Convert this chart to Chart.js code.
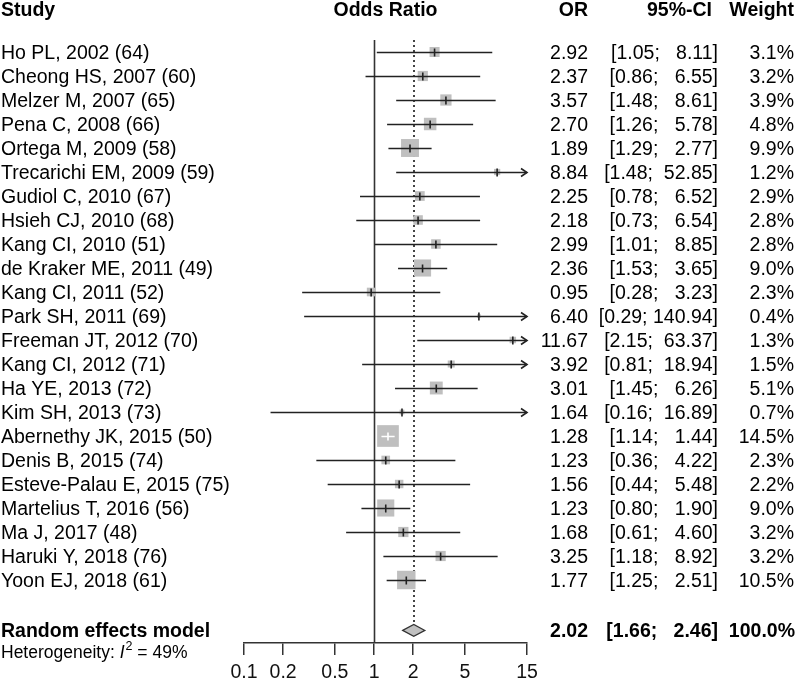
<!DOCTYPE html>
<html>
<head>
<meta charset="utf-8">
<script src="https://cdn.jsdelivr.net/npm/chart.js@4"></script>
<style>
  html, body { margin: 0; padding: 0; background: #fff; }
  canvas { display: block; }
</style>
</head>
<body>
<canvas id="chart" width="796" height="680"></canvas>
<script>
const studies = [
  'Ho PL, 2002 (64)', 'Cheong HS, 2007 (60)', 'Melzer M, 2007 (65)', 'Pena C, 2008 (66)',
  'Ortega M, 2009 (58)', 'Trecarichi EM, 2009 (59)', 'Gudiol C, 2010 (67)', 'Hsieh CJ, 2010 (68)',
  'Kang CI, 2010 (51)', 'de Kraker ME, 2011 (49)', 'Kang CI, 2011 (52)', 'Park SH, 2011 (69)',
  'Freeman JT, 2012 (70)', 'Kang CI, 2012 (71)', 'Ha YE, 2013 (72)', 'Kim SH, 2013 (73)',
  'Abernethy JK, 2015 (50)', 'Denis B, 2015 (74)', 'Esteve-Palau E, 2015 (75)', 'Martelius T, 2016 (56)',
  'Ma J, 2017 (48)', 'Haruki Y, 2018 (76)', 'Yoon EJ, 2018 (61)'
]
const oddsRatio = [2.92, 2.37, 3.57, 2.70, 1.89, 8.84, 2.25, 2.18, 2.99, 2.36, 0.95, 6.40, 11.67, 3.92, 3.01, 1.64, 1.28, 1.23, 1.56, 1.23, 1.68, 3.25, 1.77]
const lower = [1.05, 0.86, 1.48, 1.26, 1.29, 1.48, 0.78, 0.73, 1.01, 1.53, 0.28, 0.29, 2.15, 0.81, 1.45, 0.16, 1.14, 0.36, 0.44, 0.80, 0.61, 1.18, 1.25]
const upper = [8.11, 6.55, 8.61, 5.78, 2.77, 52.85, 6.52, 6.54, 8.85, 3.65, 3.23, 140.94, 63.37, 18.94, 6.26, 16.89, 1.44, 4.22, 5.48, 1.90, 4.60, 8.92, 2.51]
const weight = [3.1, 3.2, 3.9, 4.8, 9.9, 1.2, 2.9, 2.8, 2.8, 9.0, 2.3, 0.4, 1.3, 1.5, 5.1, 0.7, 14.5, 2.3, 2.2, 9.0, 3.2, 3.2, 10.5]

const pooled = { label: 'Random effects model', or: 2.02, lower: 1.66, upper: 2.46, weight: 100.0 }
const heterogeneity = 49

const xTicks = [0.1, 0.2, 0.5, 1, 2, 5, 15]
const xMin = 0.1
const xMax = 15

const FONT = '"Liberation Sans", Arial, Helvetica, sans-serif'
const summaryRow = 24.1

const boxSide = w => 5.7 * Math.sqrt(w)
const fmt = v => v.toFixed(2)
const ciText = (lo, hi) => `[${fmt(lo)}; ${fmt(hi).padStart(6, ' ')}]`

const forest = {
  id: 'forest',
  beforeDatasetsDraw(chart) {
    const { ctx, scales: { x, y } } = chart
    const top = chart.chartArea.top
    const bottom = chart.chartArea.bottom
    ctx.save()
    // line of no effect
    ctx.strokeStyle = '#333'
    ctx.lineWidth = 1.6
    ctx.beginPath()
    ctx.moveTo(Math.round(x.getPixelForValue(1)) + 0.5, top)
    ctx.lineTo(Math.round(x.getPixelForValue(1)) + 0.5, bottom)
    ctx.stroke()
    // pooled estimate
    ctx.strokeStyle = '#444'
    ctx.lineWidth = 2
    ctx.setLineDash([2, 3])
    ctx.beginPath()
    const px = Math.round(x.getPixelForValue(pooled.or))
    ctx.moveTo(px, top)
    ctx.lineTo(px, y.getPixelForValue(summaryRow) - 6)
    ctx.stroke()
    ctx.restore()
  },
  afterDatasetsDraw(chart) {
    const { ctx, scales: { x, y } } = chart
    const right = chart.chartArea.right
    ctx.save()
    ctx.lineWidth = 1.6
    studies.forEach((name, i) => {
      const py = Math.round(y.getPixelForValue(i)) + 0.5
      const x0 = x.getPixelForValue(Math.max(lower[i], xMin))
      const x1 = x.getPixelForValue(Math.min(upper[i], xMax))
      const xm = x.getPixelForValue(oddsRatio[i])
      const half = boxSide(weight[i]) / 2
      const inside = x0 >= xm - half && x1 <= xm + half
      ctx.strokeStyle = inside ? '#fff' : '#222'
      ctx.beginPath()
      ctx.moveTo(x0, py)
      ctx.lineTo(x1, py)
      ctx.moveTo(xm, py - 4)
      ctx.lineTo(xm, py + 4)
      ctx.stroke()
      if (upper[i] > xMax) {
        ctx.strokeStyle = '#222'
        ctx.beginPath()
        ctx.moveTo(right - 6, py - 4)
        ctx.lineTo(right, py)
        ctx.lineTo(right - 6, py + 4)
        ctx.stroke()
      }
    })

    // diamond
    const dy = y.getPixelForValue(summaryRow)
    ctx.beginPath()
    ctx.moveTo(x.getPixelForValue(pooled.lower), dy)
    ctx.lineTo(x.getPixelForValue(pooled.or), dy - 6)
    ctx.lineTo(x.getPixelForValue(pooled.upper), dy)
    ctx.lineTo(x.getPixelForValue(pooled.or), dy + 6)
    ctx.closePath()
    ctx.fillStyle = '#c0c0c0'
    ctx.fill()
    ctx.lineWidth = 1.2
    ctx.strokeStyle = '#333'
    ctx.stroke()

    // text columns
    ctx.fillStyle = '#000'
    ctx.textBaseline = 'alphabetic'
    const bold = `bold 19.5px ${FONT}`
    const normal = `19.5px ${FONT}`
    const text = (s, tx, ty, align, font) => {
      ctx.font = font
      ctx.textAlign = align
      ctx.fillText(s, tx, ty)
    }
    const mid = (chart.chartArea.left + chart.chartArea.right) / 2
    text('Study', 1, 16, 'left', bold)
    text('Odds Ratio', mid, 16, 'center', bold)
    text('OR', 588, 16, 'right', bold)
    text('95%-CI', 712, 16, 'right', bold)
    text('Weight', 794, 16, 'right', bold)

    studies.forEach((name, i) => {
      const ty = y.getPixelForValue(i) + 7
      text(name, 1, ty, 'left', normal)
      text(fmt(oddsRatio[i]), 588, ty, 'right', normal)
      text(ciText(lower[i], upper[i]), 718, ty, 'right', normal)
      text(weight[i].toFixed(1) + '%', 794, ty, 'right', normal)
    })

    const sy = dy + 7
    text(pooled.label, 1, sy, 'left', bold)
    text(fmt(pooled.or), 588, sy, 'right', bold)
    text(ciText(pooled.lower, pooled.upper), 718, sy, 'right', bold)
    text(pooled.weight.toFixed(1) + '%', 795, sy, 'right', bold)

    // heterogeneity line
    let hx = 1
    const hy = dy + 28
    const part = (s, font, off = 0) => {
      ctx.font = font
      ctx.textAlign = 'left'
      ctx.fillText(s, hx, hy + off)
      hx += ctx.measureText(s).width
    }
    part('Heterogeneity: ', `17.5px ${FONT}`)
    part('I', `italic 17.5px ${FONT}`)
    hx += 1
    part('2', `12.5px ${FONT}`, -8)
    part(` = ${heterogeneity}%`, `17.5px ${FONT}`)
    ctx.restore()
  }
}

new Chart(document.getElementById('chart'), {
  type: 'scatter',
  data: {
    datasets: [{
      data: studies.map((s, i) => ({ x: oddsRatio[i], y: i })),
      pointStyle: 'rect',
      pointRadius: ctx => boxSide(weight[ctx.dataIndex]) / Math.SQRT2,
      backgroundColor: '#bfbfbf',
      borderWidth: 0
    }]
  },
  options: {
    responsive: false,
    animation: false,
    events: [],
    layout: { padding: { left: 244, right: 269, top: 40, bottom: 0 } },
    plugins: { legend: { display: false }, tooltip: { enabled: false } },
    scales: {
      x: {
        type: 'logarithmic',
        min: xMin,
        max: xMax,
        afterBuildTicks: scale => { scale.ticks = xTicks.map(value => ({ value })) },
        afterFit: scale => { scale.height = 37 },
        border: { display: true, color: '#333', width: 1.5 },
        grid: { drawOnChartArea: false, drawTicks: true, tickLength: 12, color: '#333', lineWidth: 1.5 },
        ticks: {
          autoSkip: false,
          maxRotation: 0,
          padding: 6,
          color: '#111',
          font: { family: FONT, size: 19.5 },
          callback: v => String(v)
        }
      },
      y: {
        type: 'linear',
        display: false,
        reverse: true,
        min: -0.5,
        max: 24.625
      }
    }
  },
  plugins: [forest]
})
</script>
</body>
</html>
